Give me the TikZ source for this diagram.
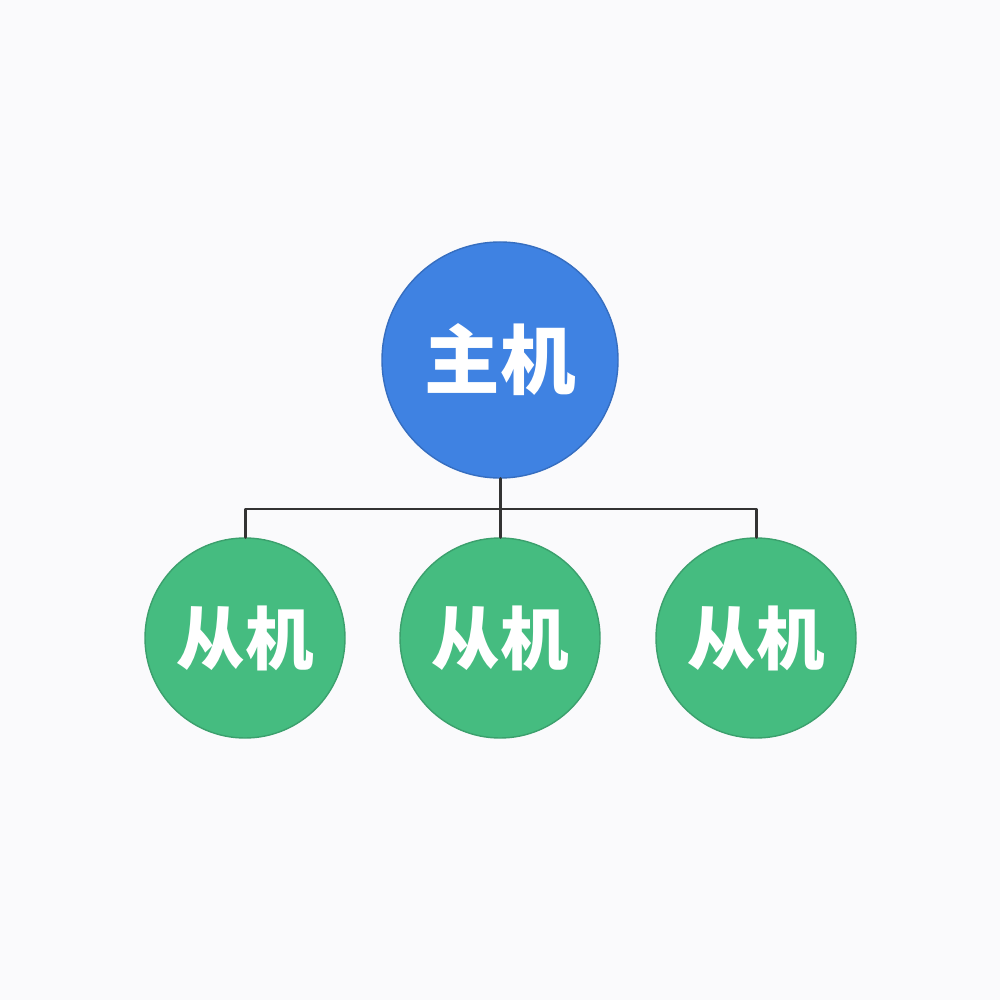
\documentclass[tikz,border=0pt]{standalone}
\usepackage{fontspec}
\newfontfamily\cjk{Noto Sans CJK SC}
\definecolor{bg}{HTML}{FAFAFC}
\definecolor{hostblue}{HTML}{3F82E2}
\definecolor{slavegreen}{HTML}{45BC80}
\definecolor{wire}{HTML}{333333}
\begin{document}
\begin{tikzpicture}[line join=round,line cap=round,
	host/.style={circle,fill=hostblue,draw=hostblue!85!black,line width=.4pt,minimum size=23.6cm/10,inner sep=0pt,text=white,font=\cjk\bfseries\fontsize{21.5}{22}\selectfont},
	slave/.style={circle,fill=slavegreen,draw=slavegreen!85!black,line width=.4pt,minimum size=2cm,inner sep=0pt,text=white,font=\cjk\bfseries\fontsize{19.5}{20}\selectfont},
	wire/.style={draw=wire,line width=.85pt}]
	\fill[bg] (0,0) rectangle (10,-10);
	\useasboundingbox (0,0) rectangle (10,-10);
	\node[host] (H) at (5,-3.6) {主机};
	\node[slave] (S1) at (2.45,-6.38) {从机};
	\node[slave] (S2) at (5,-6.38) {从机};
	\node[slave] (S3) at (7.56,-6.38) {从机};
	\coordinate (bus) at (5,-5.09);
	\draw[wire] (H)--(bus);
	\draw[wire] (bus)-|(S1);
	\draw[wire] (bus)--(S2);
	\draw[wire] (bus)-|(S3);
\end{tikzpicture}
\end{document}
